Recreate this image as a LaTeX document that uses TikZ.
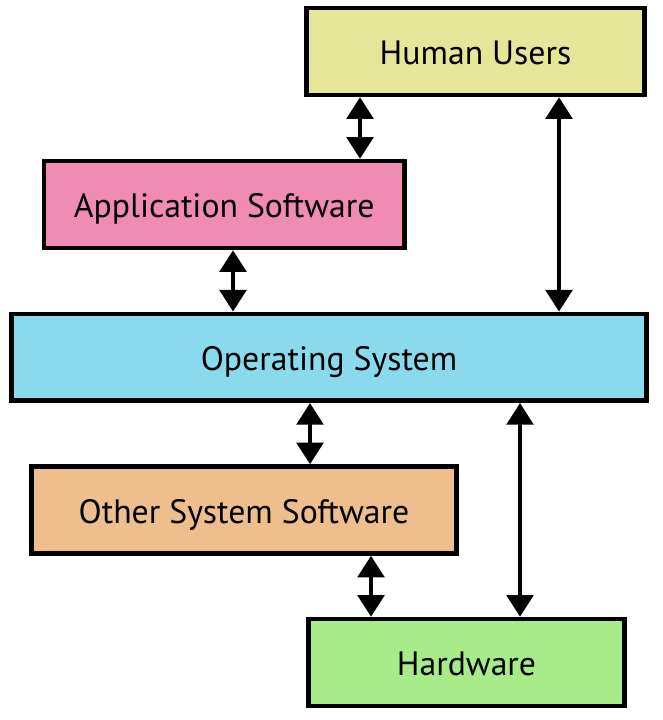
\documentclass[tikz,border=0pt]{standalone}
\usepackage{fontspec}
\setmainfont{PT Sans}
\usepackage{tikz}
\usetikzlibrary{arrows.meta, positioning}
\definecolor{usersyellow}{HTML}{E5E697}
\definecolor{apppink}{HTML}{F08BB3}
\definecolor{osblue}{HTML}{8ADAEE}
\definecolor{otherorange}{HTML}{EEBE8C}
\definecolor{hwgreen}{HTML}{A8EC8A}

\tikzset{
  layer/.style={draw=black, line width=3.3pt, inner sep=0pt,
    minimum height=2.17cm, text height=22pt, text depth=3.2pt,
    font=\fontsize{24}{28}\selectfont},
  link/.style={line width=3pt, {Triangle[width=0.66cm,length=0.54cm]}-{Triangle[width=0.66cm,length=0.54cm]}}
}

\begin{document}
\begin{tikzpicture}[x=0.025cm, y=-0.025cm]
  \useasboundingbox (0,0) rectangle (662,720);

  % Layers of the system
  \node[layer, fill=usersyellow, minimum width=8.46cm] (users) at (475.5,51.5) {Human Users};
  \node[layer, fill=apppink, minimum width=9.01cm] (app) at (224.2,204.5) {Application Software};
  \node[layer, fill=osblue, minimum width=15.88cm] (os) at (329,357.3) {Operating System};
  \node[layer, fill=otherorange, minimum width=10.63cm] (other) at (244,510) {Other System Software};
  \node[layer, fill=hwgreen, minimum width=7.91cm] (hw) at (466.5,662.5) {Hardware};

  % Two-way links
  \draw[link] (users.south -| 360,0) -- (app.north -| 360,0);
  \draw[link] (users.south -| 559,0) -- (os.north -| 559,0);
  \draw[link] (app.south -| 233,0) -- (os.north -| 233,0);
  \draw[link] (os.south -| 310,0) -- (other.north -| 310,0);
  \draw[link] (os.south -| 520,0) -- (hw.north -| 520,0);
  \draw[link] (other.south -| 371,0) -- (hw.north -| 371,0);

\end{tikzpicture}
\end{document}
